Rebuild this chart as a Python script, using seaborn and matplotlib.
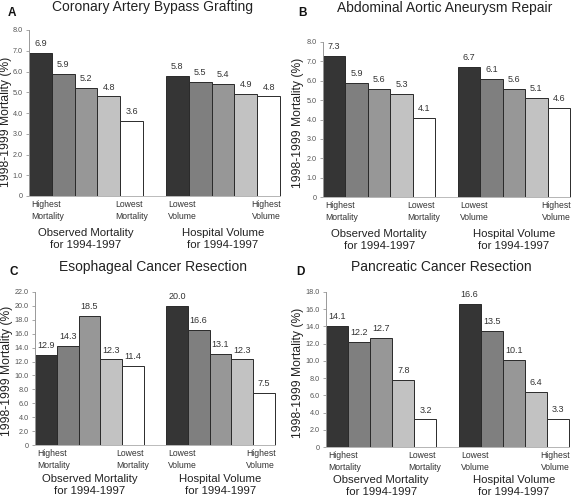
import pandas as pd
import matplotlib.pyplot as plt
import matplotlib.transforms as mtransforms
import seaborn as sns

sns.set_style('white')
plt.rcParams['font.family'] = ['Liberation Sans', 'DejaVu Sans']

titles = ['Coronary Artery Bypass Grafting', 'Abdominal Aortic Aneurysm Repair',
          'Esophageal Cancer Resection', 'Pancreatic Cancer Resection']
letters = ['A', 'B', 'C', 'D']
mortality_vals = [[6.9, 5.9, 5.2, 4.8, 3.6],
                  [7.3, 5.9, 5.6, 5.3, 4.1],
                  [12.9, 14.3, 18.5, 12.3, 11.4],
                  [14.1, 12.2, 12.7, 7.8, 3.2]]
volume_vals = [[5.8, 5.5, 5.4, 4.9, 4.8],
               [6.7, 6.1, 5.6, 5.1, 4.6],
               [20.0, 16.6, 13.1, 12.3, 7.5],
               [16.6, 13.5, 10.1, 6.4, 3.3]]
ymax = [8.0, 8.0, 22.0, 18.0]
ystep = [1.0, 1.0, 2.0, 2.0]
group_labels = ['Observed Mortality\nfor 1994-1997', 'Hospital Volume\nfor 1994-1997']
end_labels = ['Highest\nMortality', 'Lowest\nMortality', 'Lowest\nVolume', 'Highest\nVolume']
ylabel = '1998-1999 Mortality (%)'

shades = ['#353535', '#7f7f7f', '#979797', '#c2c2c2', '#ffffff']

W, H = 573, 501
# axes boxes in pixels: left, top(ymax), right, bottom(0)
boxes = [(29, 30, 280, 196), (323, 42, 570, 197), (35, 292, 275, 445), (326, 292, 569, 447)]
title_pos = [(153, 7), (445, 8), (153, 267), (441, 267)]
letter_pos = [(8, 13), (298, 13), (10, 272), (296, 272)]
ylabel_x = [6, 298, 7, 298]
group_off = [32, 32, 29, 28]

fig = plt.figure(figsize=(W / 100, H / 100), dpi=100)

slots = ['m1', 'm2', 'm3', 'm4', 'm5', 'gap', 'v1', 'v2', 'v3', 'v4', 'v5']
palette = dict(zip(slots, shades + ['#ffffff'] + shades))

for i in range(4):
    l, t, r, b = boxes[i]
    ax = fig.add_axes([l / W, (H - b) / H, (r - l) / W, (b - t) / H])
    vals = mortality_vals[i] + [0] + volume_vals[i]
    df = pd.DataFrame({'slot': slots, 'value': vals})
    sns.barplot(data=df, x='slot', y='value', hue='slot', palette=palette, order=slots,
                width=1.0, edgecolor='#2a2a2a', linewidth=0.7, legend=False, ax=ax)
    # hide the empty gap bar
    ax.patches[5].set_visible(False)
    for p in ax.patches:
        p.set_clip_on(False)
    for j, v in enumerate(vals):
        if j == 5:
            continue
        ax.annotate(f'{v:.1f}', (j, v), xytext=(0, 3.5), textcoords='offset points',
                    ha='center', va='bottom', fontsize=6.5, color='#333333')
    ax.set_xlim(-0.5, 10.5)
    ax.set_ylim(0, ymax[i])
    n = int(round(ymax[i] / ystep[i]))
    yt = [k * ystep[i] for k in range(n + 1)]
    ax.set_yticks(yt)
    ax.set_yticklabels(['0'] + [f'{y:.1f}' for y in yt[1:]], fontsize=5.2, color='#555555')
    ax.tick_params(axis='y', direction='out', length=2.5, width=0.6, color='#999999', pad=2,
                   left=True)
    ax.set_xticks([])
    ax.set_xlabel('')
    ax.set_ylabel('')
    for s in ['top', 'right']:
        ax.spines[s].set_visible(False)
    ax.spines['left'].set_color('#999999')
    ax.spines['bottom'].set_color('#bbbbbb')
    ax.spines['left'].set_linewidth(0.7)
    ax.spines['bottom'].set_linewidth(0.7)

    fig.text(ylabel_x[i] / W, 1 - (b - 74) / H, ylabel, rotation=90, ha='center', va='center',
             fontsize=8.7, color='#222222')

    trans = mtransforms.blended_transform_factory(ax.transData, fig.transFigure)
    y_tick1 = 1 - (b + 4) / H
    kw = dict(transform=trans, va='top', fontsize=6.2, color='#333333', linespacing=1.45,
              multialignment='left')
    ax.text(-0.4, y_tick1, end_labels[0], ha='left', **kw)
    ax.text(4.72, y_tick1, end_labels[1], ha='right', **kw)
    ax.text(5.6, y_tick1, end_labels[2], ha='left', **kw)
    ax.text(10.55, y_tick1, end_labels[3], ha='right', **kw)

    y_grp = 1 - (b + group_off[i]) / H
    for gx, gl in zip([2, 8], group_labels):
        ax.text(gx, y_grp, gl, transform=trans, ha='center', va='top',
                fontsize=8.2, color='#222222', linespacing=1.3)

    tx, ty = title_pos[i]
    fig.text(tx / W, 1 - ty / H, titles[i], ha='center', va='center', fontsize=10, color='#222222')
    lx, ly = letter_pos[i]
    fig.text(lx / W, 1 - ly / H, letters[i], ha='left', va='center', fontsize=8.5,
             fontweight='bold', color='#111111')

fig.savefig('out.png', dpi=100)
